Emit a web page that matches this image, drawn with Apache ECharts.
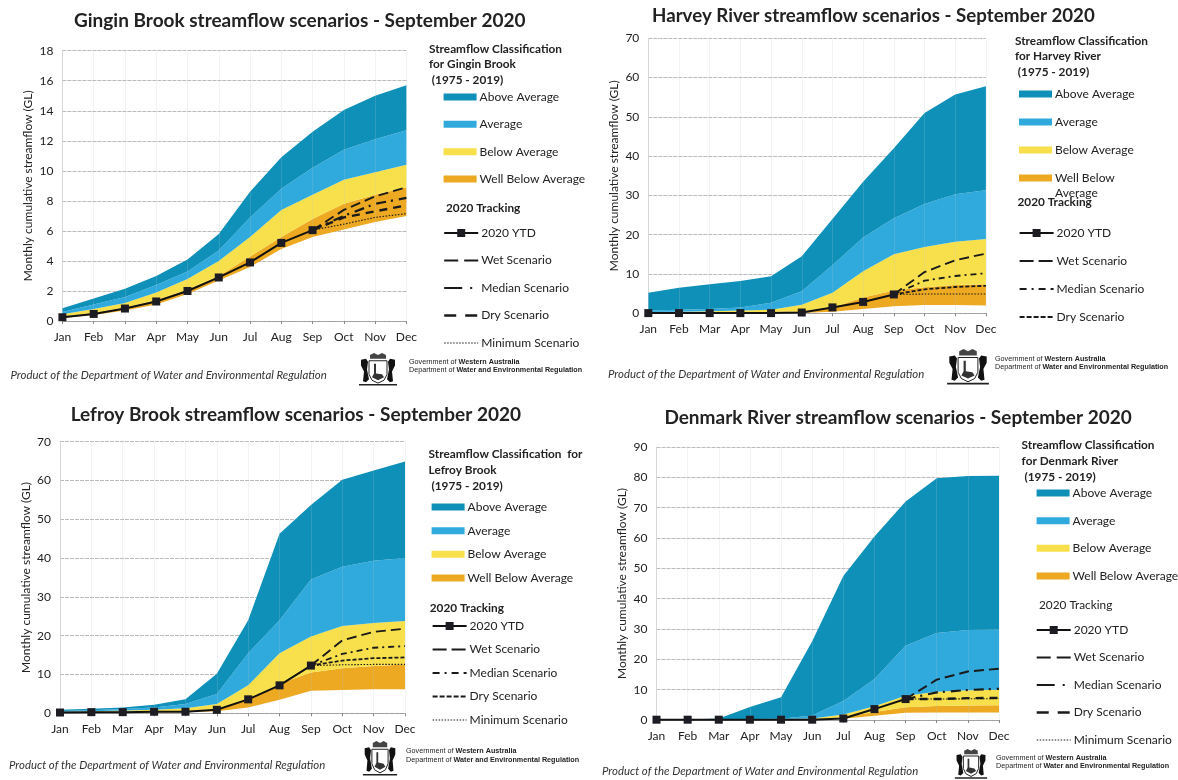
<!DOCTYPE html>
<html><head><meta charset="utf-8">
<style>html,body{margin:0;padding:0;background:#fff}#c{width:1178px;height:780px;filter:blur(0.35px)}</style>
<script src="https://cdn.jsdelivr.net/npm/echarts@6/dist/echarts.min.js"></script>
</head><body><div id="c"></div>
<script>
const months = ['Jan','Feb','Mar','Apr','May','Jun','Jul','Aug','Sep','Oct','Nov','Dec'];
const bandNames = ['Well Below Average','Below Average','Average','Above Average'];
const lineNames = ['2020 YTD','Wet Scenario','Median Scenario','Dry Scenario','Minimum Scenario'];

// Gingin Brook
const ginginFloor = [0.2,0.4,0.7,1.1,1.8,2.7,3.6,4.8,5.6,6.1,6.6,7.0];
const ginginWell  = [0.3,0.55,0.9,1.4,2.1,3.0,4.3,5.6,6.8,7.8,8.4,8.9];
const ginginBelow = [0.45,0.8,1.2,1.9,2.8,4.0,5.6,7.4,8.4,9.4,9.9,10.4];
const ginginAvg   = [0.6,1.1,1.6,2.4,3.3,4.7,6.9,8.8,10.2,11.4,12.1,12.7];
const ginginAbove = [0.85,1.5,2.15,3.0,4.1,5.8,8.6,10.9,12.6,14.05,15.0,15.7];
const ginginYtd   = [0.25,0.47,0.83,1.3,2.0,2.9,3.9,5.2,6.05];
const ginginWet   = [6.05,7.4,8.3,8.9];
const ginginMed   = [6.05,7.0,7.8,8.2];
const ginginDry   = [6.05,6.9,7.3,7.7];
const ginginMin   = [6.05,6.45,6.9,7.15];

// Harvey River
const harveyFloor = [0,0,0,0,0,0.1,0.4,1.1,1.8,2.1,2.1,2.0];
const harveyWell  = [0.1,0.15,0.2,0.2,0.3,0.5,1.5,4,5.8,6.6,7.2,7.4];
const harveyBelow = [0.3,0.4,0.5,0.7,0.9,2.2,5.2,10.7,15,16.9,18.2,18.9];
const harveyAvg   = [0.7,0.9,1.1,1.5,2.7,5.6,12.2,19.3,24.2,27.8,30.3,31.3];
const harveyAbove = [5.2,6.5,7.4,8.2,9.4,14.5,24,33.5,42,51,55.7,57.8];
const harveyYtd   = [0.05,0.05,0.05,0.05,0.05,0.2,1.5,2.9,4.8];
const harveyWet   = [4.8,10.5,13.5,15.2];
const harveyMed   = [4.8,8.3,9.5,10.2];
const harveyDry   = [4.8,6.1,6.7,7.0];
const harveyMin   = [4.8,4.9,4.9,4.9];

// Lefroy Brook
const lefroyFloor = [0.1,0.1,0.1,0.2,0.3,0.5,1.5,3.5,5.8,6,6.2,6.2];
const lefroyWell  = [0.2,0.3,0.4,0.5,0.6,1.2,3.4,7.6,10.5,11.6,12.2,12.6];
const lefroyBelow = [0.4,0.5,0.7,0.9,1.3,2.4,7.2,15.5,19.8,22.5,23.3,23.8];
const lefroyAvg   = [0.6,0.8,1.1,1.5,2.4,5,15.5,24,34.5,37.8,39.3,40];
const lefroyAbove = [0.9,1.2,1.5,2.2,3.6,10.2,24,46.3,53.7,60.2,62.6,64.9];
const lefroyYtd   = [0.2,0.3,0.3,0.4,0.4,0.9,3.6,7.2,12.3];
const lefroyWet   = [12.3,18.8,21,21.8];
const lefroyMed   = [12.3,15.3,16.9,17.3];
const lefroyDry   = [12.3,13.6,14.2,14.4];
const lefroyMin   = [12.3,12.5,12.6,12.6];

// Denmark River
const denmarkFloor = [0,0,0,0,0,0.1,0.4,1.4,2.4,2.5,2.5,2.5];
const denmarkWell  = [0,0,0.1,0.1,0.1,0.2,0.9,2.6,4.2,4.6,4.8,4.9];
const denmarkBelow = [0.1,0.1,0.1,0.2,0.3,0.5,1.8,4.5,8,9.3,9.8,10];
const denmarkAvg   = [0.1,0.1,0.2,0.3,0.4,1.5,6.3,13.5,24.5,28.7,29.7,29.8];
const denmarkAbove = [0.2,0.2,0.5,4.3,7.5,26,47.5,60.5,72,79.7,80.4,80.5];
const denmarkYtd   = [0.1,0.1,0.1,0.1,0.1,0.1,0.5,3.6,6.9];
const denmarkWet   = [6.9,13.3,16,16.9];
const denmarkMed   = [6.9,9.1,9.9,10.3];
const denmarkDry   = [6.9,6.9,7.2,7.3];
const denmarkMin   = [6.9,6.9,7,7];

const FONT = 'Lato';
const bandColors = ['#eca921','#f8e04c','#30aadd','#0f90b9'];
const dashHeavy = {med:[10,5,2,6], dry:[8,6], dryW:2.4, medW:2.2, legend:[[14,6],[18,8,2,6],[12,9],[1.5,1.5]]};
const dashLight = {med:[6,4,2,4], dry:[4,2], dryW:1.8, medW:1.8, legend:[[14,5],[7,5,2,5,7,5],[5,2],[1.5,1.5]]};

const charts = [
 {name:'Gingin Brook', title:'Gingin Brook streamflow scenarios - September 2020',
  bands:[ginginFloor,ginginWell,ginginBelow,ginginAvg,ginginAbove], ytd:ginginYtd, scen:[ginginWet,ginginMed,ginginDry,ginginMin],
  max:18, step:2, L:62.4,R:406.4,T:50.7,B:321, dash:dashHeavy, nameGap:28, titleSize:19,
  titleXY:[74,20], head:['Streamflow Classification','for Gingin Brook',' (1975 - 2019)'], headX:429, headY:[49,64,80],
  sw:[443.6,33], bandY:[97,124,152,179], trackHead:['2020 Tracking',446,208,'bold'], trackY:[233,261,288,316,343], trackX:443,
  foot:[10.5,375], logo:[358,352,40,35], gov:[409,362,370], names:lineNames},
 {name:'Harvey River', title:'Harvey River streamflow scenarios - September 2020',
  bands:[harveyFloor,harveyWell,harveyBelow,harveyAvg,harveyAbove], ytd:harveyYtd, scen:[harveyWet,harveyMed,harveyDry,harveyMin],
  max:70, step:10, L:648.3,R:985.9,T:38.3,B:313.3, dash:dashLight, nameGap:28, titleSize:18.7,
  titleXY:[652,15], head:['Streamflow Classification','for Harvey River',' (1975 - 2019)'], headX:1015, headY:[41,56,72],
  sw:[1019,33], bandY:[94,122,150,178], trackHead:['2020 Tracking',1017.5,202,'bold'], trackY:[233,261,289,317], trackX:1018.6,
  foot:[608,374], logo:[946,348,44,38], gov:[995,359,367], names:lineNames.slice(0,4), wrap:[1055,193]},
 {name:'Lefroy Brook', title:'Lefroy Brook streamflow scenarios - September 2020',
  bands:[lefroyFloor,lefroyWell,lefroyBelow,lefroyAvg,lefroyAbove], ytd:lefroyYtd, scen:[lefroyWet,lefroyMed,lefroyDry,lefroyMin],
  max:70, step:10, L:60,R:405,T:441.7,B:713.3, dash:dashLight, nameGap:28, titleSize:19,
  titleXY:[70.7,414], head:['Streamflow Classification  for','Lefroy Brook',' (1975 - 2019)'], headX:428.6, headY:[454,470,486],
  sw:[431.6,33], bandY:[507,531,555,578], trackHead:['2020 Tracking',429.7,608,'bold'], trackY:[626,649,673,697,720], trackX:431.6,
  foot:[9,765], logo:[362,740,36,37], gov:[406,751,760], names:lineNames},
 {name:'Denmark River', title:'Denmark River streamflow scenarios - September 2020',
  bands:[denmarkFloor,denmarkWell,denmarkBelow,denmarkAvg,denmarkAbove], ytd:denmarkYtd, scen:[denmarkWet,denmarkMed,denmarkDry,denmarkMin],
  max:90, step:10, L:656.5,R:999,T:447,B:720, dash:dashHeavy, nameGap:28, titleSize:19,
  titleXY:[664.4,417], head:['Streamflow Classification','for Denmark River',' (1975 - 2019)'], headX:1021.6, headY:[445,461,477],
  sw:[1036.6,33], bandY:[493,520.7,548,576], trackHead:['2020 Tracking',1039,605,'normal'], trackY:[630,658,685,713,740], trackX:1035.5,
  foot:[602,771], logo:[954,748,34,32], gov:[996,758,766], names:lineNames}
];

const grids=[],xAxes=[],yAxes=[],series=[],titles=[],legends=[],graphics=[];
const txt=(text,x,y,size,weight,style,fill)=>({type:'text',silent:true,z:20,style:{text,x,y,fill:fill||'#222',textVerticalAlign:'middle',font:`${style||'normal'} ${weight||'normal'} ${size}px ${FONT}`}});
function crest(x,y,w,h){
  const sx=w/40, sy=h/36;
  const poly=(pts,fill,stroke)=>({type:'polygon',silent:true,z:20,shape:{points:pts.map(p=>[x+p[0]*sx,y+p[1]*sy])},style:{fill:fill||'none',stroke:stroke||'none',lineWidth:1}});
  return [
    poly([[12,3],[16,1],[20,3],[24,1],[28,3],[28,7],[12,7]],'#444'),
    poly([[11,9],[29,9],[29,23],[26,29],[20,32],[14,29],[11,23]],'#fff','#222'),
    poly([[16,12],[18,12],[18,22],[24,23],[26,26],[20,29],[14,26],[16,22]],'#333'),
    poly([[3,8],[8,7],[10,10],[9,18],[11,28],[8,31],[5,30],[6,20],[3,14]],'#111'),
    poly([[37,8],[32,7],[30,10],[31,18],[29,28],[32,31],[35,30],[34,20],[37,14]],'#111'),
    poly([[1,33],[39,33],[39,34.5],[1,34.5]],'#222')
  ];
}
charts.forEach((c,i)=>{
  grids.push({left:c.L,top:c.T,width:c.R-c.L,height:c.B-c.T,show:false});
  xAxes.push({type:'category',gridIndex:i,data:months,boundaryGap:false,z:2,
    axisLine:{onZero:false,lineStyle:{color:'#999',width:0.8}},axisTick:{show:true,length:3,lineStyle:{color:'#888'}},
    axisLabel:{interval:0,color:'#222',fontFamily:FONT,fontSize:12,margin:10,hideOverlap:false},
    splitLine:{show:true,interval:0,lineStyle:{color:'rgba(185,200,205,0.25)',width:0.8}}});
  yAxes.push({type:'value',gridIndex:i,min:0,max:c.max,interval:c.step,z:0,
    name:'Monthly cumulative streamflow (GL)',nameLocation:'middle',nameGap:c.nameGap,nameTextStyle:{color:'#222',fontFamily:FONT,fontSize:12},
    axisLine:{show:true,lineStyle:{color:'#d4d4d4',width:0.8}},axisTick:{show:false},
    axisLabel:{color:'#222',fontFamily:FONT,fontSize:12,margin:9},
    splitLine:{show:true,lineStyle:{color:'#aaaaaa',width:0.8,type:[4,1]}}});
  // stacked bands from the read boundaries
  const st='s'+i;
  series.push({type:'line',name:'floor'+i,xAxisIndex:i,yAxisIndex:i,stack:st,data:c.bands[0],symbol:'none',lineStyle:{width:0},areaStyle:{opacity:0},z:1,silent:true});
  bandNames.forEach((n,b)=>{
    series.push({type:'line',name:n,xAxisIndex:i,yAxisIndex:i,stack:st,symbol:'none',silent:true,z:1,
      data:c.bands[b+1].map((v,k)=>+(v-c.bands[b][k]).toFixed(3)),
      itemStyle:{color:bandColors[b]},lineStyle:{width:0,color:bandColors[b]},areaStyle:{color:bandColors[b],opacity:1}});
  });
  const pad=a=>Array(8).fill(null).concat(a);
  const styles=[{t:[10,5],w:1.9},{t:c.dash.med,w:c.dash.medW},{t:c.dash.dry,w:c.dash.dryW},{t:[1.5,1.6],w:1.1}];
  const legendStyles={};
  c.scen.forEach((a,s)=>{
    const n=lineNames[s+1];
    legendStyles[n]={color:'#1a1a1a',width:styles[s].w,type:c.dash.legend[s],opacity:1};
    series.push({type:'line',name:n,xAxisIndex:i,yAxisIndex:i,data:pad(a),symbol:'none',itemStyle:{color:'#1a1a1a'},lineStyle:{color:'#1a1a1a',width:styles[s].w,type:styles[s].t},z:3,silent:true,clip:false});
  });
  series.push({type:'line',name:'2020 YTD',xAxisIndex:i,yAxisIndex:i,data:c.ytd,symbol:'rect',symbolSize:8,itemStyle:{color:'#1c1c22'},lineStyle:{color:'#111',width:2},z:4,silent:true,clip:false});

  titles.push({text:c.title,left:c.titleXY[0],top:c.titleXY[1]-9,padding:0,textStyle:{fontFamily:FONT,fontWeight:'bold',fontSize:c.titleSize,color:'#222'}});

  // legends
  const lh=14;
  const gapOf=a=>(a[a.length-1]-a[0])/(a.length-1)-lh;
  legends.push({orient:'vertical',left:c.sw[0],top:c.bandY[0]-lh/2,padding:0,itemWidth:c.sw[1],itemHeight:7,itemGap:gapOf(c.bandY),icon:'rect',selectedMode:false,
    textStyle:{fontFamily:FONT,fontSize:12,color:'#222',lineHeight:lh,padding:[0,0,0,-2]},
    formatter:c.wrap?(n=>n==='Well Below Average'?'Well Below':n):(n=>n),
    data:['Above Average','Average','Below Average','Well Below Average']});
  legends.push({orient:'vertical',left:c.trackX,top:c.trackY[0]-lh/2,padding:0,itemWidth:34,itemHeight:10,itemGap:gapOf(c.trackY),selectedMode:false,
    textStyle:{fontFamily:FONT,fontSize:12,color:'#222',lineHeight:lh,padding:[0,0,0,-2]},
    data:c.names.map(n=>n==='2020 YTD'?{name:n,lineStyle:{color:'#111',width:2}}:{name:n,itemStyle:{opacity:0},lineStyle:legendStyles[n]})});

  // text blocks
  c.head.forEach((t,k)=>graphics.push(txt(t,c.headX,c.headY[k],11.8,'bold')));
  graphics.push(txt(c.trackHead[0],c.trackHead[1],c.trackHead[2],11.8,c.trackHead[3]));
  if(c.wrap) graphics.push(txt('Average',c.wrap[0],c.wrap[1],12));
  graphics.push(txt('Product of the Department of Water and Environmental Regulation',c.foot[0],c.foot[1],11.4,'normal','italic','#333'));
  graphics.push(...crest(...c.logo));
  const rich={a:{fontFamily:'Liberation Sans',fontSize:7.2},b:{fontFamily:'Liberation Sans',fontSize:7.2,fontWeight:'bold'}};
  graphics.push({type:'text',silent:true,z:20,style:{x:c.gov[0],y:c.gov[1],textVerticalAlign:'middle',fill:'#222',text:'{a|Government of }{b|Western Australia}',rich}});
  graphics.push({type:'text',silent:true,z:20,style:{x:c.gov[0],y:c.gov[2],textVerticalAlign:'middle',fill:'#222',text:'{a|Department of }{b|Water and Environmental Regulation}',rich}});
});
const chart=echarts.init(document.getElementById('c'),null,{renderer:'canvas'});
chart.setOption({animation:false,backgroundColor:'#fff',title:titles,grid:grids,xAxis:xAxes,yAxis:yAxes,series,legend:legends,graphic:{elements:graphics}});
</script></body></html>
